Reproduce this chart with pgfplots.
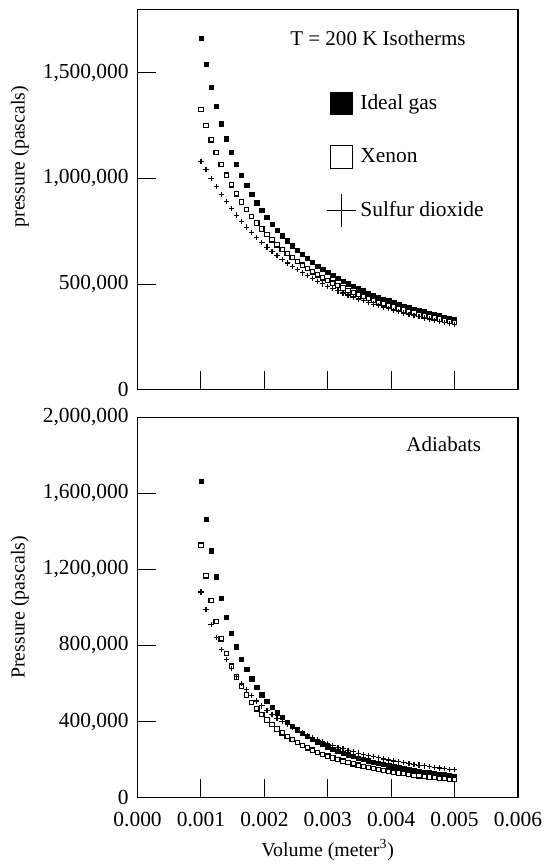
\documentclass[border=0pt]{standalone}
\usepackage{fontspec}
\setmainfont{Liberation Serif}
\usepackage{pgfplots}
\usepackage{pgfplotstable}
\pgfplotsset{compat=1.18}

\pgfplotstableread{
V ideal xenon so2
0.00100 1662800 1327250 1081813
0.00108 1539630 1251647 1041151
0.00116 1433448 1183592 1001077
0.00124 1340968 1122140 962376
0.00132 1259697 1066459 925443
0.00140 1187714 1015825 890442
0.00148 1123514 969623 857409
0.00156 1065897 927320 826305
0.00164 1013902 888461 797049
0.00172 966744 852656 769540
0.00180 923778 819569 743668
0.00188 884468 788909 719323
0.00196 848367 760424 696396
0.00204 815098 733895 674786
0.00212 784340 709111 654395
0.00220 755818 685963 635132
0.00228 729298 664245 616916
0.00236 704576 643847 599669
0.00244 681475 624653 583322
0.00252 659841 606543 567809
0.00260 639538 589493 553073
0.00268 620448 573324 539058
0.00276 602464 558025 525717
0.00284 585493 543517 513001
0.00292 569452 529740 500872
0.00300 554267 516640 489290
0.00308 539870 504168 478220
0.00316 526203 492282 467630
0.00324 513210 480941 457490
0.00332 500843 470107 447772
0.00340 489059 459749 438452
0.00348 477816 449836 429507
0.00356 467079 440342 420914
0.00364 456813 431241 412653
0.00372 446989 422497 404706
0.00380 437579 414106 397055
0.00388 428557 406042 389685
0.00396 419899 398281 382579
0.00404 411584 390803 375726
0.00412 403592 383618 369112
0.00420 395905 376683 362724
0.00428 388505 369994 356551
0.00436 381376 363537 350584
0.00444 374505 357302 344811
0.00452 367876 351276 339223
0.00460 361478 345450 333812
0.00468 355299 339814 328570
0.00476 349328 334357 323488
0.00484 343554 329073 318560
0.00492 337967 323954 313780
0.00500 332560 318990 309139
}\isotherms

\pgfplotstableread{
V ideal xenon so2
0.00100 1662800 1327250 1081810
0.00108 1462626 1166761 989126
0.00116 1298404 1035655 909582
0.00124 1161817 926958 840641
0.00132 1046849 835683 780384
0.00140 949060 758174 727308
0.00148 865110 691715 680254
0.00156 792439 634229 638285
0.00164 729068 584123 600642
0.00172 673431 540142 566717
0.00180 624288 501295 536001
0.00188 580645 466791 508084
0.00196 541685 435980 482608
0.00204 506745 408336 459280
0.00212 475278 383429 437851
0.00220 446824 360893 418104
0.00228 420999 340426 399862
0.00236 397484 321779 382960
0.00244 376002 304731 367266
0.00252 356320 289102 352657
0.00260 338235 274729 339030
0.00268 321575 261478 326295
0.00276 306191 249232 314371
0.00284 291951 237889 303182
0.00292 278742 227358 292670
0.00300 266464 217561 282775
0.00308 255029 208429 273447
0.00316 244360 199902 264641
0.00324 234387 191925 256317
0.00332 225048 184450 248438
0.00340 216294 177437 240968
0.00348 208068 170842 233881
0.00356 200334 164636 227147
0.00364 193051 158787 220745
0.00372 186180 153265 214646
0.00380 179694 148049 208838
0.00388 173561 143112 203295
0.00396 167758 138438 198002
0.00404 162258 134005 192943
0.00412 157040 129795 188104
0.00420 152086 125796 183474
0.00428 147379 121994 179037
0.00436 142899 118372 174783
0.00444 138634 114921 170700
0.00452 134569 111631 166778
0.00460 130691 108489 163014
0.00468 126990 105489 159391
0.00476 123451 102617 155908
0.00484 120069 99871 152553
0.00492 116833 97244 149322
0.00500 113734 94724 146207
}\adiabats

\pgfplotsset{
  panel/.style={
    scale only axis,
    width=191.7pt,
    xmin=0, xmax=0.006, ymin=0,
    xtick={0,0.001,0.002,0.003,0.004,0.005,0.006},
    tick pos=left,
    tick align=inside,
    major tick length=9.5pt,
    tick style={black, line width=0.5pt},
    axis line style={black, line width=0.75pt},
    scaled ticks=false,
    /pgf/number format/assume math mode=true,
    yticklabel style={/pgf/number format/fixed, /pgf/number format/1000 sep={,}, xshift=-1pt},
    tick label style={font=\fontsize{10.8}{12}\selectfont},
    label style={font=\fontsize{10}{12}\selectfont},
    clip=false,
  },
  idealstyle/.style={only marks, mark=square*, mark size=1.1pt, black,
    mark options={draw=black, fill=black, line width=0.3pt}},
  xenonstyle/.style={only marks, mark=square*, mark size=1.1pt, black,
    mark options={draw=black, fill=white, line width=0.6pt}},
  so2style/.style={only marks, mark=+, mark size=1.35pt, black,
    mark options={line width=0.6pt}},
}

\begin{document}
\begin{tikzpicture}
\begin{axis}[panel,
  height=191.5pt,
  ymax=1800000,
  ytick={0,500000,1000000,1500000},
  xticklabels={},
  ylabel={pressure (pascals)},
  ylabel style={at={(axis description cs:-0.3096,0.613)}, anchor=center},
  legend cell align=left,
  legend style={draw=none, fill=none, at={(axis description cs:0.4911,0.7974)},
    anchor=north west, inner xsep=0pt, inner ysep=0pt, outer sep=0pt,
    row sep=10pt, column sep=-0.85pt, nodes={inner sep=2pt},
    font=\fontsize{10.8}{12}\selectfont},
]
\addplot[idealstyle, legend image code/.code={
  \path[draw=none, fill=none] (-8.5pt,-8.5pt) rectangle (8.5pt,8.5pt);
  \fill[black, draw=none] (-5.8pt,-5.8pt) rectangle (5.8pt,5.8pt);}]
  table[x=V, y=ideal] {\isotherms};
\addlegendentry{Ideal gas}
\addplot[xenonstyle, legend image code/.code={
  \path[draw=none, fill=none] (-8.5pt,-8.5pt) rectangle (8.5pt,8.5pt);
  \draw[black, line width=0.5pt, fill=white] (-5.65pt,-5.65pt) rectangle (5.65pt,5.65pt);}]
  table[x=V, y=xenon] {\isotherms};
\addlegendentry{Xenon}
\addplot[so2style, legend image code/.code={
  \path[draw=none, fill=none] (-8.5pt,-8.5pt) rectangle (8.5pt,8.5pt);
  \draw[black, line width=0.45pt, fill=none] (-7.35pt,0pt) -- (7.35pt,0pt) (0pt,-8.25pt) -- (0pt,8.25pt);}]
  table[x=V, y=so2] {\isotherms};
\addlegendentry{Sulfur dioxide}
\node[font=\fontsize{10.6}{12}\selectfont] at (axis description cs:0.632,0.9235) {T = 200 K Isotherms};
\end{axis}

\begin{axis}[panel,
  at={(0pt,-205.65pt)},
  height=191.65pt,
  ymax=2000000,
  ytick={0,400000,800000,1200000,1600000,2000000},
  xticklabels={0.000,0.001,0.002,0.003,0.004,0.005,0.006},
  xticklabel style={yshift=-4pt},
  xlabel={Volume (meter\textsuperscript{3})},
  xlabel style={at={(axis description cs:0.5,-0.138)}, anchor=center},
  ylabel={Pressure (pascals)},
  ylabel style={at={(axis description cs:-0.3096,0.5)}, anchor=center},
]
\addplot[idealstyle] table[x=V, y=ideal] {\adiabats};
\addplot[xenonstyle] table[x=V, y=xenon] {\adiabats};
\addplot[so2style] table[x=V, y=so2] {\adiabats};
\node[font=\fontsize{10.6}{12}\selectfont] at (axis description cs:0.805,0.929) {Adiabats};
\end{axis}
\path (-69.35pt,-237.15pt) rectangle (203.65pt,196.35pt);
\end{tikzpicture}
\end{document}
